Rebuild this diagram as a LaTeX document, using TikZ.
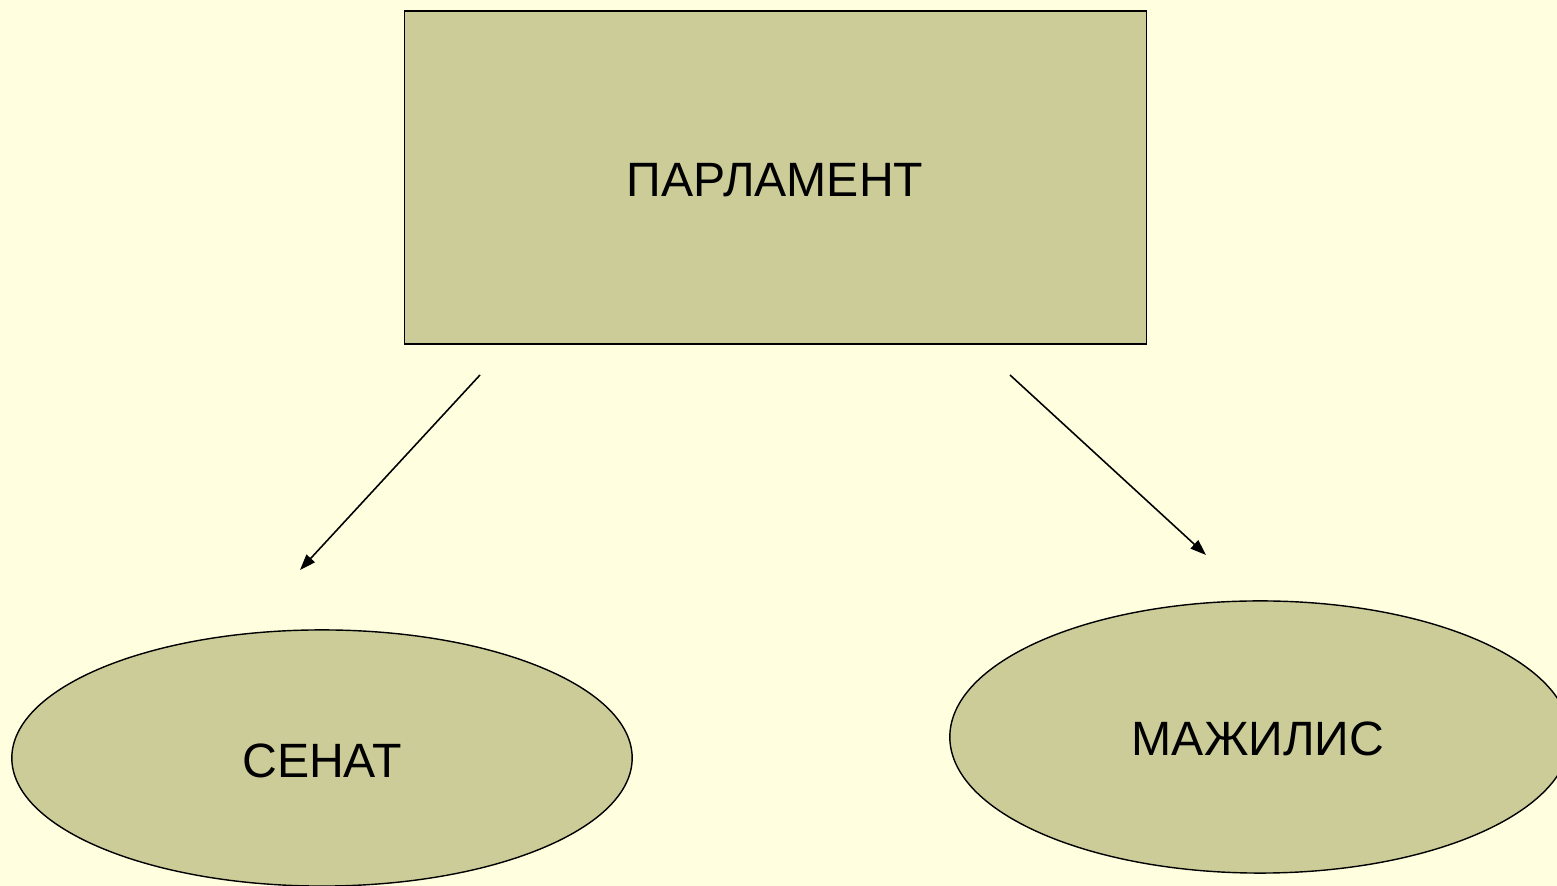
\documentclass[tikz,border=0pt]{standalone}
\usepackage{fontspec}
\setmainfont{Liberation Sans}
\usetikzlibrary{shapes.geometric,arrows.meta}
\definecolor{bg}{RGB}{255,255,224}
\definecolor{olive}{RGB}{204,204,153}
\begin{document}
\begin{tikzpicture}[x=0.01cm,y=-0.01cm,
  boxshape/.style={draw=black,line width=0.4pt,fill=olive,rectangle,inner sep=0pt},
  ovalshape/.style={draw=black,line width=0.4pt,fill=olive,ellipse,inner sep=0pt},
  lbl/.style={font=\fontsize{13.7pt}{16pt}\selectfont},
  conn/.style={-{Triangle[length=4.5pt,width=3.2pt]},line width=0.45pt}]
\fill[bg] (0,0) rectangle (1557,886);
\useasboundingbox (0,0) rectangle (1557,886);
\begin{scope}
\clip (0,0) rectangle (1557,886);
\node[boxshape,minimum width=7.41cm,minimum height=3.33cm] (parl) at (775.5,177.5) {};
\node[ovalshape,minimum width=6.2cm,minimum height=2.56cm] (senat) at (322,758) {};
\node[ovalshape,minimum width=6.2cm,minimum height=2.72cm] (maj) at (1260,737) {};
\end{scope}
\node[lbl] (tparl) at (775,180) {ПАРЛАМЕНТ};
\node[lbl] (tsen) at (322,761) {СЕНАТ};
\node[lbl] (tmaj) at (1258,739) {МАЖИЛИС};
\coordinate (a1s) at (480,375);
\coordinate (a1e) at (300,570);
\coordinate (a2s) at (1010,375);
\coordinate (a2e) at (1206,555);
\draw[conn] (a1s) -- (a1e);
\draw[conn] (a2s) -- (a2e);
\end{tikzpicture}
\end{document}
